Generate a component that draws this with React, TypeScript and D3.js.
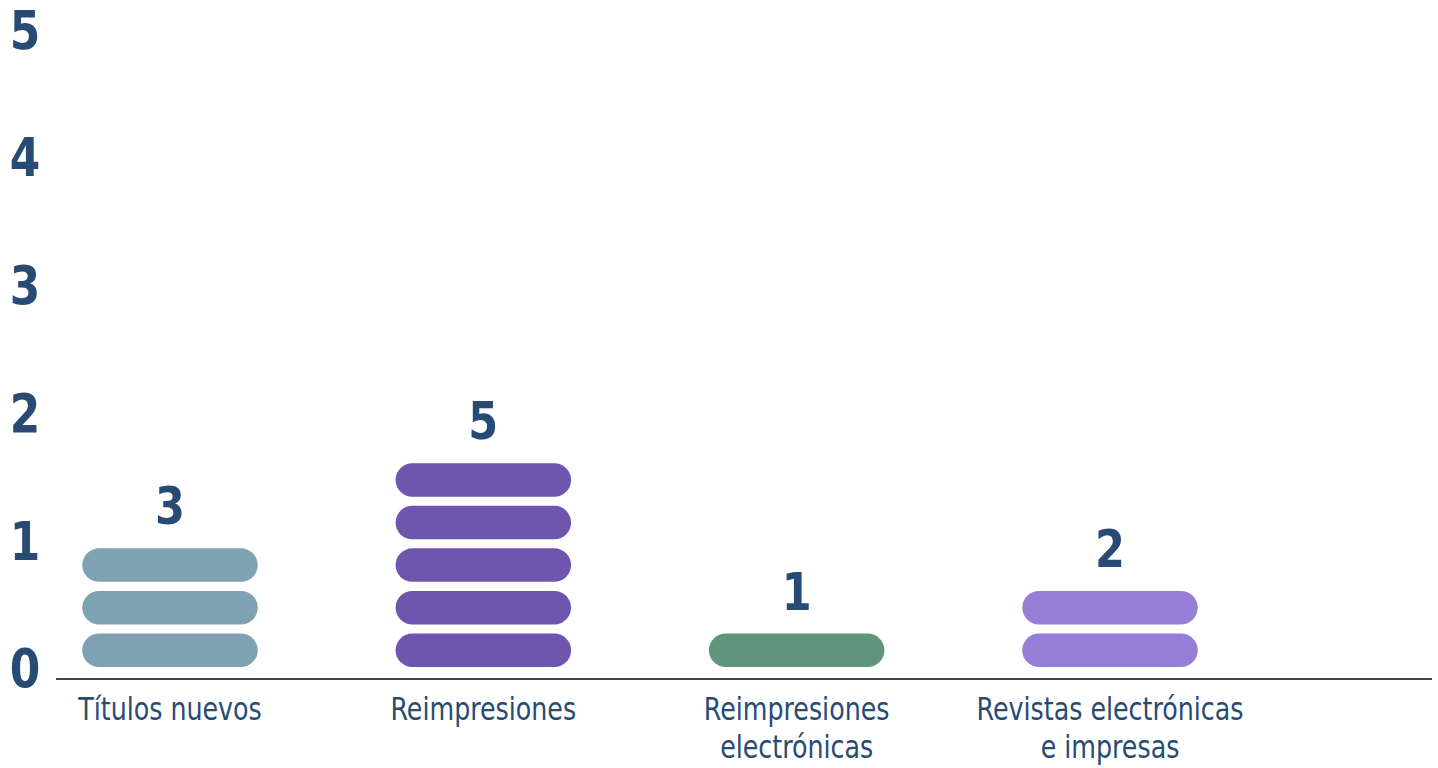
import React from "react";
import * as d3 from "d3";

const categories: string[][] = [
  ["Títulos nuevos"],
  ["Reimpresiones"],
  ["Reimpresiones", "electrónicas"],
  ["Revistas electrónicas", "e impresas"],
];
const values: number[] = [3, 5, 1, 2];
const colors: string[] = ["#7fa2b2", "#7055ae", "#5e957b", "#967ed8"];
const yTicks: number[] = [0, 1, 2, 3, 4, 5];

const W = 1438;
const H = 768;
const TEXT = "#284b73";
const FONT = "'DejaVu Sans Condensed', 'DejaVu Sans', sans-serif";

export default function App() {
  const keys = categories.map((c) => c.join(" "));
  const x = d3.scalePoint<string>().domain(keys).range([170, 1110]);
  const y = d3.scaleLinear().domain([0, 5]).range([669, 30.5]);
  const pillW = 175.5;
  const pillH = 33.5;
  const axisY = 679;
  const unit = y(0) - y(1 / 3);

  return (
    <svg
      width={W}
      height={H}
      style={{ position: "absolute", left: 0, top: 0, background: "#fff" }}
    >
      {yTicks.map((t) => (
        <text
          key={t}
          transform={`translate(25,${y(t)}) scale(0.92,1)`}
          textAnchor="middle"
          dominantBaseline="central"
          fontFamily={FONT}
          fontStretch="condensed"
          fontWeight="bold"
          fontSize={53}
          fill={TEXT}
        >
          {t}
        </text>
      ))}
      {keys.map((k, ci) => {
        const cx = x(k)!;
        const v = values[ci];
        const pills = d3.range(v);
        const topY = y(v / 3) - 2 + unit - pillH;
        return (
          <g key={k}>
            {pills.map((i) => (
              <rect
                key={i}
                x={cx - pillW / 2}
                y={y((i + 1) / 3) - 2 + unit - pillH}
                width={pillW}
                height={pillH}
                rx={pillH / 2}
                fill={colors[ci]}
              />
            ))}
            <text
              transform={`translate(${cx},${topY - 24}) scale(0.92,1)`}
              textAnchor="middle"
              fontFamily={FONT}
              fontStretch="condensed"
              fontWeight="bold"
              fontSize={52}
              fill={TEXT}
            >
              {v}
            </text>
            {categories[ci].map((line, li) => (
              <text
                key={li}
                transform={`translate(${cx},${720 + li * 38}) scale(0.88,1)`}
                textAnchor="middle"
                fontFamily={FONT}
                fontStretch="condensed"
                fontSize={32}
                fill={TEXT}
              >
                {line}
              </text>
            ))}
          </g>
        );
      })}
      <line x1={56} x2={1432} y1={axisY} y2={axisY} stroke="#4a4440" strokeWidth={2} />
    </svg>
  );
}
